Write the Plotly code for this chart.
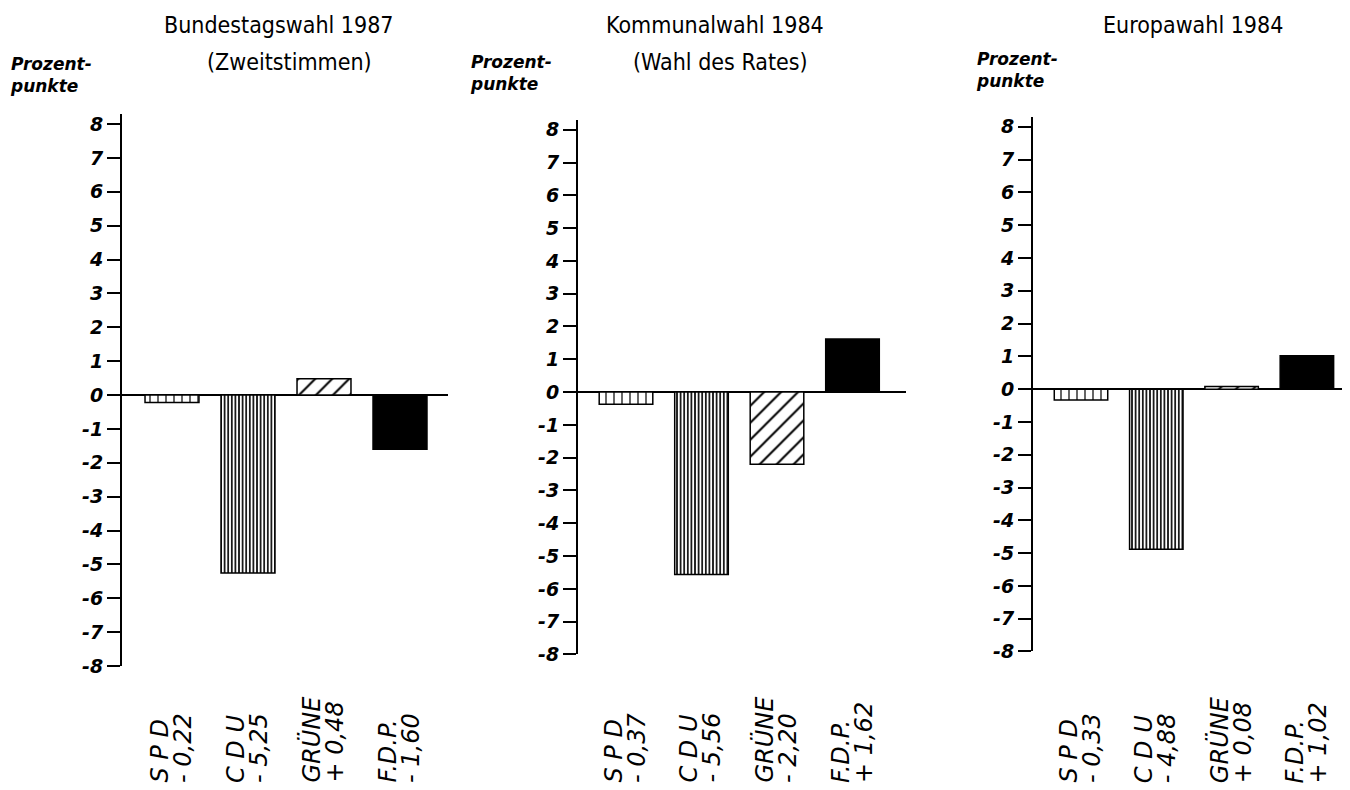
import plotly.graph_objects as go

W, H = 1350, 790

parties = ["S P D", "C D U", "GRÜNE", "F.D.P."]
title_line1 = ["Bundestagswahl 1987", "Kommunalwahl 1984", "Europawahl 1984"]
title_line2 = ["(Zweitstimmen)", "(Wahl des Rates)", ""]
bundestag_1987 = [-0.22, -5.25, 0.48, -1.60]
kommunal_1984 = [-0.37, -5.56, -2.20, 1.62]
europa_1984 = [-0.33, -4.88, 0.08, 1.02]
series = [bundestag_1987, kommunal_1984, europa_1984]
y_ticks = list(range(-8, 9))
y_label = "Prozent-<br>punkte"

# panel geometry in pixels: axis x, right end, first bar centre, bar step, zero y, unit
geo = [
    dict(ax=114, right=440, c0=164, step=76, zero=392, unit=34.4,
         t1=(270, 16), t2=(281, 54), lab=(0, 44)),
    dict(ax=570, right=898, c0=618, step=75.5, zero=389, unit=33.3,
         t1=(707, 16), t2=(712, 54), lab=(460, 42)),
    dict(ax=1025, right=1350, c0=1073, step=75.3, zero=386, unit=33.3,
         t1=(1185, 16), t2=(1185, 54), lab=(966, 39)),
]

TITLE_FONT = "Liberation Sans Narrow, DejaVu Sans Condensed, sans-serif"
TICK_FONT = "DejaVu Sans, sans-serif"

def fmt(v):
    s = "+" if v > 0 else "-"
    return s + " " + f"{abs(v):.2f}".replace(".", ",")

fig = go.Figure()
annotations = []
for k, (vals, g) in enumerate(zip(series, geo)):
    n = "" if k == 0 else str(k + 1)
    fig.add_trace(go.Bar(
        x=list(range(len(parties))), y=vals,
        xaxis="x" + n, yaxis="y" + n,
        width=0.71,
        marker=dict(
            color="black",
            line=dict(color="black", width=1.5),
            pattern=dict(shape=["|", "|", "/", ""], size=[8, 3.6, 12, 8],
                         solidity=[0.15, 0.45, 0.17, 0.5],
                         fgcolor="black", bgcolor="white", fillmode="replace"),
        ),
        showlegend=False,
    ))
    xr = [(g["ax"] - g["c0"]) / g["step"], (g["right"] - g["c0"]) / g["step"]]
    ytop = 8.3
    px_bottom = g["zero"] + 8 * g["unit"]
    px_top = g["zero"] - ytop * g["unit"]
    fig.update_layout(**{
        "xaxis" + n: dict(domain=[g["ax"] / W, min(g["right"] / W, 1)], range=xr,
                          showline=False, showticklabels=False, ticks="",
                          showgrid=False, zeroline=False, anchor="y" + n),
        "yaxis" + n: dict(domain=[1 - px_bottom / H, 1 - px_top / H], range=[-8, ytop],
                          tickvals=y_ticks, ticktext=[str(t) for t in y_ticks],
                          ticks="outside", ticklen=13, tickwidth=2, tickcolor="black",
                          showline=True, linewidth=2, linecolor="black",
                          showgrid=False, zeroline=True, zerolinecolor="black",
                          zerolinewidth=2, anchor="x" + n,
                          tickfont=dict(family=TICK_FONT, size=19, color="black",
                                        style="italic", weight="bold")),
    })
    # category labels: party name and change, as two rotated columns
    for i, (p, v) in enumerate(zip(parties, vals)):
        for txt, shift in ((p, -12), (fmt(v), 11)):
            annotations.append(dict(
                x=i, xref="x" + n, y=1 - 788 / H, yref="paper", xshift=shift,
                text=txt, textangle=-90, showarrow=False,
                xanchor="center", yanchor="bottom",
                font=dict(family=TICK_FONT, size=24, color="black", style="italic"),
            ))
    for txt, (tx, ty) in ((title_line1[k], g["t1"]), (title_line2[k], g["t2"])):
        if txt:
            annotations.append(dict(
                x=tx / W, xref="paper", y=1 - ty / H, yref="paper",
                text=txt, showarrow=False, xanchor="center", yanchor="middle",
                font=dict(family=TITLE_FONT, size=23, color="black"),
            ))
    annotations.append(dict(
        x=g["lab"][0] / W, xref="paper", y=1 - g["lab"][1] / H, yref="paper",
        text="<b><i>" + y_label + "</i></b>", showarrow=False,
        xanchor="left", yanchor="top", align="left",
        font=dict(family=TICK_FONT, size=17, color="black"),
    ))

fig.update_layout(
    width=W, height=H, margin=dict(l=0, r=0, t=0, b=0),
    paper_bgcolor="white", plot_bgcolor="white",
    annotations=annotations, bargap=0.3,
)
fig.write_html("out.html")
